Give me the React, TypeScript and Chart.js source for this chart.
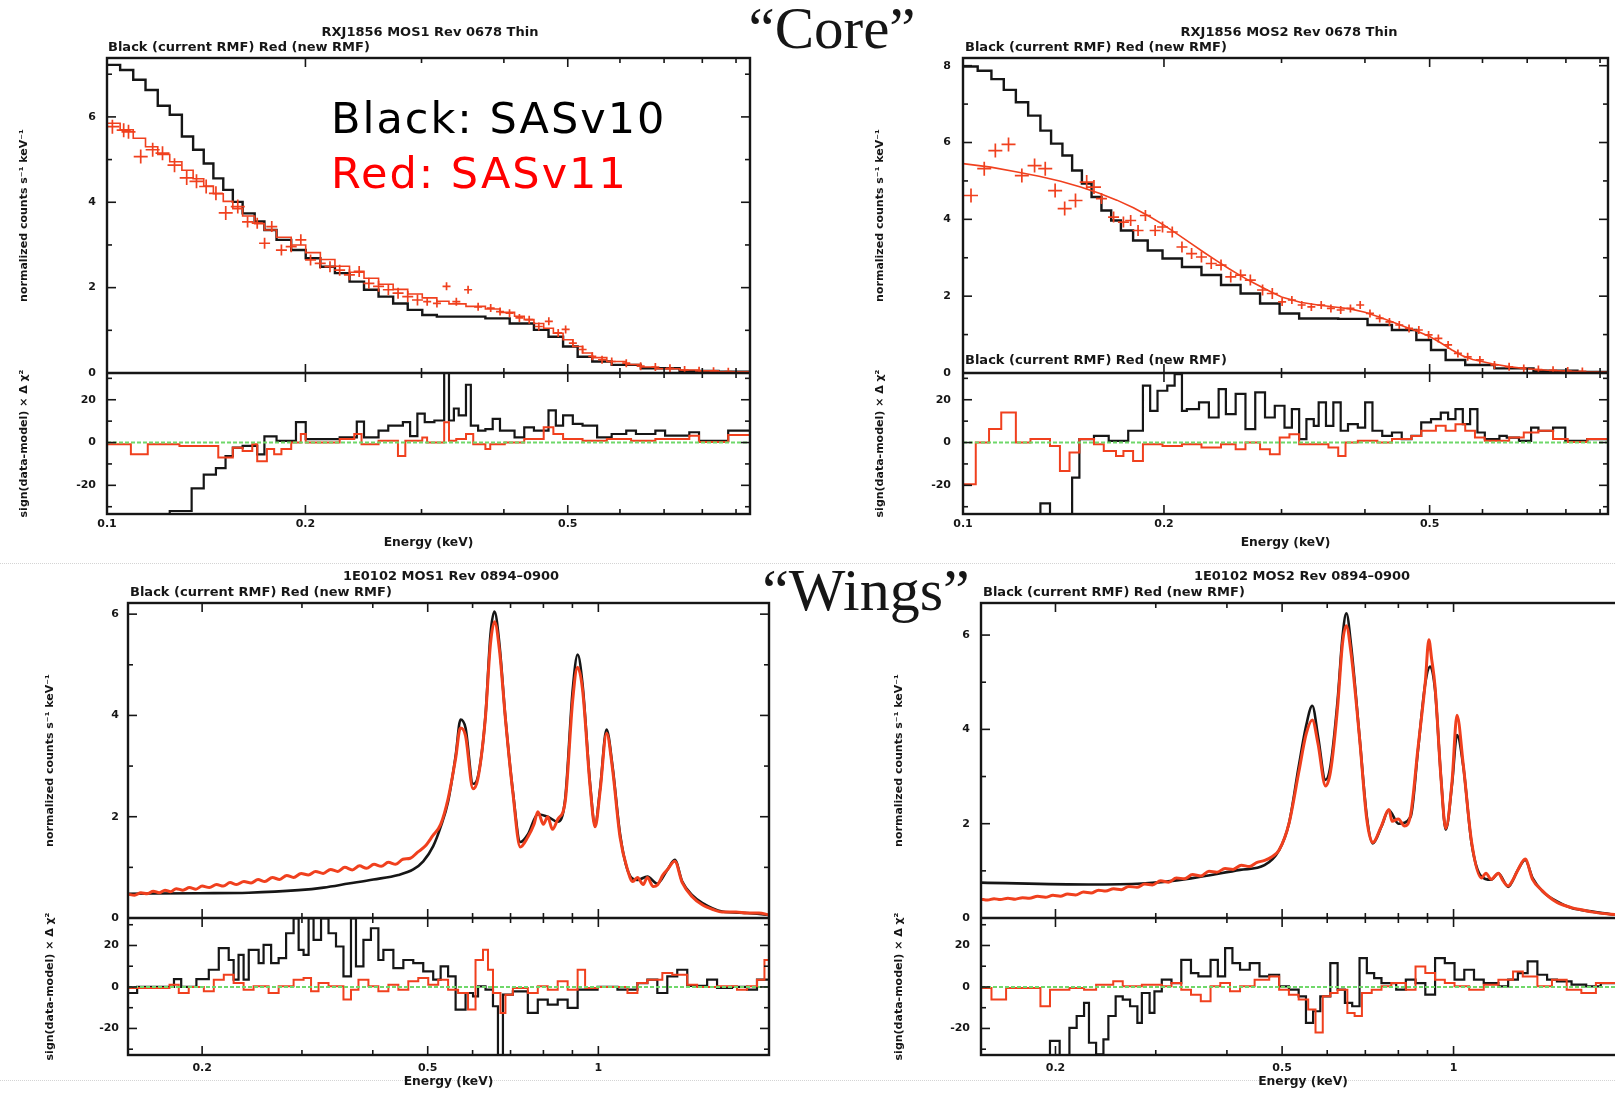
import React, { useEffect, useRef } from 'react';
import { Chart, registerables } from 'chart.js';

Chart.register(...registerables);

type Pt = [number, number];

const INK = '#161616';
const RED = '#f0401e';
const GREEN = '#6fd86a';
const SANS = '"DejaVu Sans", "Liberation Sans", sans-serif';
const SERIF = '"Liberation Serif", "DejaVu Serif", serif';

/* ---------- tick values ---------- */
const coreXLabels = [0.1, 0.2, 0.5];
const coreXMinor = [0.3, 0.4, 0.6, 0.7, 0.8, 0.9];
const wingsXLabels = [0.2, 0.5, 1];
const wingsXMinor = [0.3, 0.4, 0.6, 0.7, 0.8, 0.9, 2];
const coreMos1YLabels = [0, 2, 4, 6];
const coreMos2YLabels = [0, 2, 4, 6, 8];
const coreYMinor = [1, 3, 5, 7];
const wingsYLabels = [0, 2, 4, 6];
const wingsYMinor = [1, 3, 5];
const residLabels = [-20, 0, 20];
const residMinor = [-30, -10, 10, 30];

/* ---------- RXJ1856 MOS1 Rev 0678 Thin ---------- */
const coreMos1Current: Pt[] = [
  [0.1, 7.22], [0.1047, 7.1], [0.1096, 6.87], [0.1144, 6.63], [0.1194, 6.26], [0.1245, 6.05],
  [0.1299, 5.54], [0.1351, 5.23], [0.1402, 4.91], [0.145, 4.56], [0.1501, 4.29], [0.1552, 4.01],
  [0.1606, 3.74], [0.1675, 3.55], [0.1733, 3.35], [0.1808, 3.12], [0.1903, 2.88], [0.2002, 2.69],
  [0.2107, 2.49], [0.2217, 2.34], [0.2333, 2.14], [0.2454, 1.95], [0.2582, 1.79], [0.2717, 1.63],
  [0.2859, 1.48], [0.3008, 1.36], [0.3165, 1.32], [0.375, 1.28], [0.4082, 1.16], [0.4443, 1.01],
  [0.4675, 0.85], [0.4919, 0.62], [0.5176, 0.38], [0.5447, 0.27], [0.5829, 0.19], [0.6454, 0.11],
  [0.739, 0.05], [0.8465, 0.03], [0.945, 0.03],
];
const coreMos1NewModel: Pt[] = [
  [0.1, 5.85], [0.1047, 5.7], [0.1096, 5.5], [0.1144, 5.3], [0.1194, 5.12], [0.1245, 4.95],
  [0.1299, 4.75], [0.1351, 4.55], [0.1402, 4.38], [0.145, 4.2], [0.1501, 4.02], [0.1552, 3.85],
  [0.1606, 3.68], [0.1675, 3.5], [0.1733, 3.35], [0.1808, 3.18], [0.1903, 3.0], [0.2002, 2.82],
  [0.2107, 2.66], [0.2217, 2.5], [0.2333, 2.36], [0.2454, 2.22], [0.2582, 2.08], [0.2717, 1.96],
  [0.2859, 1.85], [0.3008, 1.76], [0.3165, 1.68], [0.3302, 1.62], [0.3504, 1.56], [0.375, 1.5],
  [0.3946, 1.42], [0.4152, 1.33], [0.4295, 1.25], [0.4443, 1.16], [0.4597, 1.05], [0.4755, 0.93],
  [0.4919, 0.78], [0.5089, 0.62], [0.5265, 0.47], [0.5447, 0.36], [0.5731, 0.27], [0.6133, 0.2],
  [0.6454, 0.14], [0.679, 0.1], [0.739, 0.07], [0.7909, 0.05], [0.8465, 0.03], [0.945, 0.03],
];
const coreMos1NewData: Pt[] = [
  [0.1019, 5.77], [0.106, 5.69], [0.1078, 5.65], [0.1125, 5.07], [0.1173, 5.23], [0.1214, 5.15],
  [0.1266, 4.87], [0.1321, 4.57], [0.1367, 4.49], [0.1414, 4.37], [0.1463, 4.21], [0.1514, 3.75],
  [0.1579, 3.9], [0.1634, 3.54], [0.169, 3.51], [0.1734, 3.04], [0.1778, 3.43], [0.1839, 2.88],
  [0.1903, 2.96], [0.1968, 3.12], [0.2036, 2.65], [0.2106, 2.57], [0.2179, 2.49], [0.2254, 2.41],
  [0.2332, 2.3], [0.2413, 2.38], [0.2496, 2.1], [0.2582, 2.03], [0.2672, 1.95], [0.2764, 1.87],
  [0.2859, 1.79], [0.2958, 1.71], [0.306, 1.67], [0.3166, 1.63], [0.3274, 2.03], [0.3388, 1.67],
  [0.353, 1.95], [0.3656, 1.55], [0.382, 1.52], [0.3947, 1.44], [0.408, 1.4], [0.4223, 1.29],
  [0.437, 1.25], [0.4519, 1.09], [0.468, 1.21], [0.4836, 0.94], [0.4963, 1.02], [0.509, 0.7],
  [0.5266, 0.55], [0.5447, 0.39], [0.5636, 0.31], [0.583, 0.27], [0.6134, 0.23], [0.645, 0.16],
  [0.679, 0.14], [0.7145, 0.11], [0.752, 0.07], [0.791, 0.05], [0.832, 0.04], [0.876, 0.03],
];
const coreMos1ResCurrent: Pt[] = [
  [0.1, -45], [0.1245, -32], [0.1344, -21.4], [0.1402, -15], [0.1463, -12], [0.1513, -6.3],
  [0.1552, -2.4], [0.1606, -1.6], [0.169, -5.5], [0.1733, 2.9], [0.1808, 0.8], [0.1935, 9.5],
  [0.2002, 1.6], [0.2254, 2.4], [0.2393, 9.8], [0.2454, 2.4], [0.2582, 5.6], [0.2671, 7.9],
  [0.2811, 9.5], [0.2883, 3], [0.2957, 13.5], [0.3034, 9.5], [0.3138, 10.3], [0.3247, 32.5],
  [0.3302, 10.3], [0.3359, 15.9], [0.3416, 12.7], [0.3504, 27], [0.3564, 7.9], [0.3656, 5.6],
  [0.375, 6.3], [0.3847, 11.1], [0.3946, 5.6], [0.4152, 2.4], [0.4295, 7.1], [0.4443, 5.6],
  [0.4675, 15], [0.4796, 7.9], [0.4919, 12.7], [0.5089, 8.7], [0.5265, 7.9], [0.554, 2.4],
  [0.5829, 4], [0.6133, 5.6], [0.6345, 4], [0.679, 5.6], [0.7025, 3.2], [0.7645, 4.8],
  [0.7909, 0.8], [0.8757, 5.6], [0.945, 5.6],
];
const coreMos1ResNew: Pt[] = [
  [0.1, -0.8], [0.1087, -5.5], [0.1153, -0.8], [0.1288, -1.6], [0.1475, -7], [0.1552, -2.4],
  [0.1606, -4], [0.1661, -0.8], [0.169, -8.7], [0.1748, -3], [0.1793, -5.5], [0.1839, -3],
  [0.1903, 0], [0.1968, 4], [0.2002, 0], [0.2254, 1.6], [0.2372, 4], [0.2433, -0.8],
  [0.2582, 0.8], [0.2763, -6.3], [0.2835, 0.8], [0.3008, 2.4], [0.3059, 0], [0.3247, 9.5],
  [0.3302, 0.8], [0.3387, 1.6], [0.3504, 4], [0.3594, -0.8], [0.375, -3], [0.3814, -0.8],
  [0.4013, 0], [0.4295, 1.6], [0.4597, 7.1], [0.4755, 4], [0.4919, 1.6], [0.5265, 0.8],
  [0.5731, 1.6], [0.6238, 0.8], [0.679, 1.6], [0.7645, 3.2], [0.7909, 0.3], [0.8757, 3.5],
  [0.945, 3.5],
];

/* ---------- RXJ1856 MOS2 Rev 0678 Thin ---------- */
const coreMos2Current: Pt[] = [
  [0.1, 7.98], [0.1052, 7.87], [0.1103, 7.65], [0.1151, 7.37], [0.12, 7.05], [0.1252, 6.7],
  [0.1306, 6.31], [0.1355, 5.97], [0.1409, 5.66], [0.1457, 5.27], [0.1507, 4.93], [0.1558, 4.58],
  [0.1612, 4.23], [0.1667, 3.97], [0.1724, 3.71], [0.1798, 3.45], [0.1891, 3.19], [0.199, 2.98],
  [0.2128, 2.76], [0.2276, 2.55], [0.2435, 2.29], [0.2605, 2.07], [0.2786, 1.81], [0.298, 1.55],
  [0.3188, 1.42], [0.3648, 1.41], [0.4036, 1.25], [0.439, 1.12], [0.4776, 0.86], [0.5024, 0.6],
  [0.5284, 0.34], [0.5653, 0.21], [0.6253, 0.12], [0.7155, 0.06], [0.8326, 0.03], [0.925, 0.03],
];
const coreMos2NewModel: Pt[] = [
  [0.1, 5.45], [0.11, 5.36], [0.12, 5.24], [0.13, 5.12], [0.14, 4.99], [0.15, 4.84], [0.16, 4.68],
  [0.17, 4.5], [0.18, 4.3], [0.19, 4.08], [0.2, 3.85], [0.21, 3.6], [0.22, 3.36], [0.23, 3.13],
  [0.24, 2.92], [0.25, 2.72], [0.26, 2.54], [0.27, 2.38], [0.28, 2.24], [0.29, 2.1], [0.3, 1.98],
  [0.32, 1.84], [0.34, 1.77], [0.36, 1.72], [0.38, 1.67], [0.4, 1.58], [0.42, 1.46], [0.44, 1.33],
  [0.46, 1.2], [0.48, 1.08], [0.5, 0.95], [0.52, 0.78], [0.54, 0.6], [0.56, 0.45], [0.58, 0.35],
  [0.62, 0.24], [0.66, 0.16], [0.7, 0.11], [0.75, 0.07], [0.8, 0.05], [0.85, 0.03], [0.925, 0.02],
];
const coreMos2NewData: Pt[] = [
  [0.1028, 4.62], [0.1076, 5.32], [0.1118, 5.79], [0.117, 5.95], [0.1225, 5.14], [0.128, 5.4],
  [0.1328, 5.32], [0.1374, 4.75], [0.142, 4.28], [0.1474, 4.49], [0.1532, 4.97], [0.1571, 4.84],
  [0.1612, 4.54], [0.1681, 4.06], [0.1739, 3.93], [0.1783, 3.97], [0.1829, 3.71], [0.1876, 4.1],
  [0.194, 3.71], [0.199, 3.8], [0.2058, 3.67], [0.2128, 3.28], [0.22, 3.11], [0.2276, 3.02],
  [0.2354, 2.85], [0.2435, 2.81], [0.2518, 2.5], [0.2605, 2.55], [0.2694, 2.42], [0.281, 2.16],
  [0.2906, 2.07], [0.3006, 1.85], [0.3109, 1.9], [0.3216, 1.77], [0.3325, 1.72], [0.344, 1.77],
  [0.3557, 1.68], [0.3679, 1.64], [0.3805, 1.68], [0.3935, 1.77], [0.407, 1.55], [0.4209, 1.42],
  [0.4353, 1.33], [0.4503, 1.25], [0.4657, 1.16], [0.4817, 1.12], [0.4982, 0.99], [0.5153, 0.9],
  [0.5329, 0.73], [0.5512, 0.51], [0.5701, 0.42], [0.5946, 0.34], [0.6253, 0.21], [0.6577, 0.16],
  [0.6918, 0.12], [0.7276, 0.09], [0.7653, 0.07], [0.805, 0.05], [0.8467, 0.04],
];
const coreMos2ResCurrent: Pt[] = [
  [0.1, -45], [0.1306, -28.4], [0.135, -45], [0.1457, -16.4], [0.1494, 1.6], [0.1571, 3.1],
  [0.1653, 0.8], [0.1768, 5.5], [0.186, 26.6], [0.1907, 14.8], [0.1956, 24.2], [0.2023, 26.6],
  [0.2075, 32], [0.2128, 14.8], [0.2164, 15.6], [0.2257, 18.8], [0.2335, 11.7], [0.2415, 25],
  [0.2476, 13.3], [0.2561, 22.7], [0.2649, 6.3], [0.274, 23.4], [0.2834, 11.7], [0.2931, 17.2],
  [0.3031, 7], [0.3109, 15.6], [0.3188, 1.6], [0.3269, 10.9], [0.3353, 7.8], [0.341, 18.8],
  [0.3497, 7.8], [0.3587, 18.8], [0.3679, 5.5], [0.3773, 8.6], [0.3903, 7], [0.4003, 18.8],
  [0.4105, 5.5], [0.4246, 3.1], [0.4391, 4.7], [0.4541, 1.6], [0.4696, 3.1], [0.4857, 9.4],
  [0.5024, 10.9], [0.5196, 14], [0.5329, 10.9], [0.5466, 15.6], [0.5606, 8.6], [0.5749, 15.6],
  [0.5896, 4.7], [0.6048, 1.6], [0.6361, 3.1], [0.6523, 2.3], [0.6804, 0.8], [0.7095, 7],
  [0.7277, 5.5], [0.7653, 7], [0.7983, 0.8], [0.8611, 1.6], [0.925, 1.6],
];
const coreMos2ResNew: Pt[] = [
  [0.1, -19.5], [0.1045, 0], [0.1094, 6.3], [0.1141, 14], [0.12, 0], [0.1262, 1.6],
  [0.135, -1.6], [0.1397, -13.3], [0.1444, -4.7], [0.1494, 1.6], [0.1571, -0.8], [0.1625, -3.9],
  [0.1695, -6.3], [0.1739, -3.9], [0.1798, -8.6], [0.186, -0.8], [0.199, -1.6], [0.2128, -0.8],
  [0.2276, -2.3], [0.2435, -0.8], [0.2561, -3.1], [0.2649, 0], [0.2786, -3.1], [0.2882, -5.5],
  [0.2981, 2.3], [0.3083, 3.9], [0.3188, -0.8], [0.3527, -2.3], [0.3648, -6.3], [0.3741, 0],
  [0.3903, 0.8], [0.4175, 0], [0.4391, 1.6], [0.4696, 3.1], [0.4857, 5.5], [0.5109, 7.8],
  [0.5284, 5.5], [0.5466, 8.6], [0.5653, 5.5], [0.5846, 2.3], [0.6048, 0.8], [0.6578, 2.3],
  [0.6918, 4.7], [0.7277, 5.5], [0.7653, 1.6], [0.8051, 0.3], [0.8611, 1.6], [0.925, 1.6],
];

/* ---------- 1E0102 MOS1 Rev 0894-0900 ---------- */
const wingsMos1Current: Pt[] = [
  [0.148, 0.48], [0.1974, 0.49], [0.2417, 0.5], [0.296, 0.55], [0.3275, 0.6], [0.3624, 0.68],
  [0.401, 0.76], [0.4438, 0.85], [0.4715, 0.96], [0.491, 1.12], [0.5113, 1.42], [0.527, 1.8],
  [0.5432, 2.3], [0.56, 3.2], [0.5714, 3.92], [0.5831, 3.75], [0.6011, 2.65], [0.6134, 2.8],
  [0.6323, 4.0], [0.6452, 5.6], [0.6558, 6.05], [0.6692, 5.4], [0.6856, 3.95], [0.7067, 2.5],
  [0.7285, 1.5], [0.7509, 1.65], [0.7819, 2.05], [0.8142, 2.0], [0.8478, 1.9], [0.8739, 2.35],
  [0.9009, 4.5], [0.9193, 5.2], [0.9381, 4.6], [0.967, 2.65], [0.9868, 1.85], [1.007, 2.55],
  [1.0338, 3.72], [1.0592, 3.0], [1.0918, 1.67], [1.1255, 0.95], [1.172, 0.75], [1.2204, 0.82],
  [1.2707, 0.68], [1.3232, 0.95], [1.364, 1.15], [1.406, 0.72], [1.4641, 0.45], [1.5245, 0.3],
  [1.653, 0.13], [1.8293, 0.1], [2.0, 0.06],
];
const wingsMos1New: Pt[] = [
  [0.148, 0.47], [0.152, 0.45], [0.156, 0.5], [0.16, 0.48], [0.164, 0.53], [0.168, 0.5],
  [0.172, 0.55], [0.176, 0.52], [0.18, 0.58], [0.185, 0.55], [0.19, 0.6], [0.195, 0.57],
  [0.2, 0.63], [0.206, 0.6], [0.212, 0.66], [0.218, 0.63], [0.224, 0.7], [0.23, 0.66],
  [0.237, 0.72], [0.244, 0.69], [0.251, 0.76], [0.258, 0.72], [0.266, 0.8], [0.274, 0.76],
  [0.282, 0.84], [0.29, 0.8], [0.299, 0.88], [0.308, 0.85], [0.317, 0.92], [0.327, 0.88],
  [0.337, 0.96], [0.347, 0.92], [0.357, 1.0], [0.368, 0.95], [0.379, 1.03], [0.39, 0.98],
  [0.402, 1.06], [0.414, 1.02], [0.426, 1.1], [0.439, 1.06], [0.452, 1.16], [0.466, 1.18],
  [0.48, 1.3], [0.495, 1.42], [0.51, 1.62], [0.527, 1.85], [0.543, 2.35], [0.56, 3.15],
  [0.571, 3.75], [0.583, 3.6], [0.601, 2.55], [0.613, 2.75], [0.632, 3.95], [0.645, 5.4],
  [0.656, 5.85], [0.669, 5.3], [0.686, 3.9], [0.707, 2.45], [0.728, 1.4], [0.751, 1.6],
  [0.77, 1.85], [0.782, 2.1], [0.8, 1.85], [0.814, 2.0], [0.83, 1.75], [0.848, 1.95],
  [0.874, 2.3], [0.901, 4.3], [0.919, 4.95], [0.938, 4.5], [0.967, 2.6], [0.987, 1.8],
  [1.007, 2.5], [1.034, 3.65], [1.059, 2.95], [1.092, 1.6], [1.126, 0.95], [1.15, 0.72],
  [1.172, 0.8], [1.2, 0.66], [1.22, 0.8], [1.25, 0.62], [1.271, 0.65], [1.3, 0.85],
  [1.323, 0.95], [1.364, 1.12], [1.406, 0.7], [1.464, 0.42], [1.525, 0.26], [1.6, 0.16],
  [1.653, 0.12], [1.75, 0.12], [1.829, 0.1], [1.92, 0.1], [2.0, 0.06],
];
const wingsMos1ResCurrent: Pt[] = [
  [0.148, -2.9], [0.1536, 0], [0.1784, 3.8], [0.1837, 0], [0.1954, 3.8], [0.2055, 8.3],
  [0.214, 18.7], [0.2228, 13], [0.2273, 3.5], [0.2319, 15.5], [0.2367, 3.5], [0.2417, 17.9],
  [0.2516, 11.5], [0.2567, 20.3], [0.2647, 11.5], [0.2729, 13.9], [0.2813, 25.9], [0.29, 33],
  [0.296, 17.9], [0.302, 15.5], [0.3082, 33], [0.3145, 22.7], [0.3242, 33], [0.3342, 25.9],
  [0.3445, 19.5], [0.3551, 5.1], [0.3661, 33], [0.3736, 9.9], [0.3851, 22.7], [0.397, 28.3],
  [0.4092, 13], [0.4176, 17.9], [0.4349, 9.1], [0.4529, 13], [0.4715, 11.5], [0.491, 7.5],
  [0.5113, 3.5], [0.527, 9.9], [0.5432, 5.1], [0.56, -10.9], [0.5831, -2.9], [0.6011, -4.5],
  [0.6134, 0.3], [0.6323, -1.3], [0.6518, -9.3], [0.6651, -45], [0.6787, -3.7], [0.7067, -2.1],
  [0.7509, -12.5], [0.7819, -6.1], [0.8142, -8.5], [0.8478, -6.1], [0.8827, -10.1], [0.9193, -1.3],
  [0.9968, 0], [1.0807, -1.3], [1.172, 1.9], [1.2204, 3.5], [1.2707, -2.9], [1.3232, 5.1],
  [1.3778, 8.3], [1.4349, 0.5], [1.5556, 3.5], [1.6196, -0.5], [1.7208, 0], [1.8293, -1.3],
  [1.9048, 3.5], [2.0, 3.5],
];
const wingsMos1ResNew: Pt[] = [
  [0.148, -0.5], [0.1752, 1.1], [0.1819, -2.9], [0.1894, 0], [0.2014, -2.1], [0.2097, 3.5],
  [0.2184, 5.9], [0.2273, 1.9], [0.2367, -1.3], [0.2465, 0.3], [0.262, -2.9], [0.2729, 0.3],
  [0.29, 3.5], [0.302, 4.3], [0.3113, -2.1], [0.3209, 1.9], [0.3342, 0.3], [0.3551, -6.1],
  [0.3661, -1.3], [0.3774, 3.5], [0.393, 0.3], [0.4092, -2.1], [0.4262, 1.1], [0.4438, -1.3],
  [0.4621, 2.7], [0.4812, 4.3], [0.5011, 1.1], [0.5218, 3.5], [0.5432, -1.3], [0.5657, -2.9],
  [0.589, -10.9], [0.6072, 13], [0.6259, 17.9], [0.6387, 8.3], [0.6518, -2.9], [0.6719, -12.5],
  [0.6856, -3.7], [0.7067, -0.5], [0.7509, -2.9], [0.7819, 0.3], [0.8142, -1.3], [0.8478, 2.7],
  [0.8827, -1.3], [0.9193, 8.3], [0.9476, -0.5], [0.9968, 0], [1.1255, -2.9], [1.172, 1.9],
  [1.2204, 3.5], [1.2968, 6.7], [1.3502, 5.9], [1.4349, 1.1], [1.494, 0], [1.6196, 0.3],
  [1.756, -1.3], [1.8293, 0.3], [1.9048, 3.5], [1.9633, 13], [2.0, 13],
];

/* ---------- 1E0102 MOS2 Rev 0894-0900 ---------- */
const wingsMos2Current: Pt[] = [
  [0.148, 0.75], [0.2285, 0.71], [0.2836, 0.73], [0.3459, 0.84], [0.4218, 1.02], [0.4656, 1.12],
  [0.494, 1.44], [0.5139, 2.0], [0.5346, 3.21], [0.5506, 4.06], [0.5649, 4.5], [0.5784, 3.84],
  [0.5957, 2.93], [0.6076, 3.21], [0.6258, 4.62], [0.6382, 5.96], [0.6484, 6.46], [0.6613, 5.75],
  [0.6838, 3.84], [0.7043, 2.15], [0.7211, 1.58], [0.7472, 1.94], [0.7696, 2.29], [0.8005, 2.0],
  [0.8409, 2.15], [0.8661, 3.56], [0.8921, 4.98], [0.9099, 5.33], [0.928, 4.83], [0.9502, 3.0],
  [0.9691, 1.87], [0.9943, 2.86], [1.014, 3.88], [1.0403, 3.21], [1.0757, 1.58], [1.1189, 0.88],
  [1.1639, 0.81], [1.1988, 0.95], [1.247, 0.66], [1.2971, 1.02], [1.336, 1.23], [1.376, 0.85],
  [1.4313, 0.57], [1.519, 0.35], [1.6113, 0.21], [1.7445, 0.14], [1.8888, 0.08], [2.0, 0.05],
];
const wingsMos2New: Pt[] = [
  [0.148, 0.4], [0.152, 0.38], [0.156, 0.41], [0.16, 0.39], [0.165, 0.42], [0.17, 0.4],
  [0.175, 0.43], [0.18, 0.42], [0.186, 0.46], [0.192, 0.44], [0.198, 0.48], [0.204, 0.46],
  [0.21, 0.51], [0.217, 0.49], [0.224, 0.55], [0.231, 0.53], [0.238, 0.59], [0.245, 0.57],
  [0.253, 0.62], [0.261, 0.6], [0.269, 0.67], [0.278, 0.65], [0.287, 0.72], [0.296, 0.7],
  [0.306, 0.79], [0.316, 0.76], [0.326, 0.85], [0.337, 0.83], [0.348, 0.92], [0.36, 0.89],
  [0.372, 0.99], [0.384, 0.97], [0.397, 1.05], [0.41, 1.03], [0.424, 1.12], [0.438, 1.09],
  [0.452, 1.18], [0.466, 1.22], [0.48, 1.3], [0.494, 1.44], [0.514, 2.0], [0.535, 3.1],
  [0.551, 3.9], [0.565, 4.2], [0.578, 3.7], [0.596, 2.8], [0.608, 3.1], [0.626, 4.5],
  [0.638, 5.8], [0.648, 6.2], [0.661, 5.6], [0.684, 3.8], [0.704, 2.1], [0.721, 1.6],
  [0.747, 1.95], [0.77, 2.3], [0.78, 2.05], [0.8, 2.1], [0.82, 1.95], [0.841, 2.2],
  [0.866, 3.6], [0.892, 5.0], [0.905, 5.9], [0.915, 5.5], [0.928, 4.9], [0.95, 3.0],
  [0.969, 1.9], [0.994, 2.9], [1.014, 4.3], [1.04, 3.25], [1.076, 1.6], [1.119, 0.85],
  [1.14, 0.95], [1.164, 0.82], [1.199, 0.95], [1.22, 0.8], [1.247, 0.68], [1.27, 0.8],
  [1.297, 1.02], [1.336, 1.25], [1.376, 0.82], [1.431, 0.58], [1.47, 0.45], [1.519, 0.33],
  [1.611, 0.22], [1.7, 0.16], [1.745, 0.13], [1.889, 0.08], [2.0, 0.06],
];
const wingsMos2ResCurrent: Pt[] = [
  [0.148, -45], [0.1956, -26], [0.2034, -45], [0.2116, -19.7], [0.2179, -14], [0.2245, -7.7],
  [0.229, -26.9], [0.2357, -32.5], [0.2428, -25.3], [0.2477, -14], [0.2551, -4.5], [0.2625, -6.1],
  [0.2704, -9.3], [0.2785, -17.3], [0.2836, -2.9], [0.2926, -12.5], [0.2984, -2.1], [0.3074, 3.5],
  [0.3197, 1.9], [0.3326, 13.1], [0.3459, 6.7], [0.3564, 5.1], [0.3744, 13.1], [0.3856, 5.1],
  [0.3971, 18.7], [0.409, 11.5], [0.4218, 8.3], [0.4387, 11.5], [0.4563, 5.1], [0.4746, 5.9],
  [0.494, 0.3], [0.5139, -1.3], [0.5346, -4.5], [0.5506, -17.3], [0.5667, -11.7], [0.5835, -4.5],
  [0.6076, 11.5], [0.6258, -1.3], [0.6445, -7.7], [0.6638, -9.3], [0.6838, 13.9], [0.7043, 6.7],
  [0.7254, 4.3], [0.7472, 1.9], [0.793, -1.3], [0.8245, 3.5], [0.8575, 1.9], [0.8921, -3.7],
  [0.928, 13.9], [0.9653, 11.5], [1.004, 3.5], [1.0443, 8.3], [1.0862, 3.5], [1.1298, 1.9],
  [1.1988, 0.3], [1.247, 3.5], [1.2971, 6.7], [1.3492, 12.3], [1.4034, 5.9], [1.4596, 3.5],
  [1.519, 2.7], [1.6113, 1.1], [1.7096, 0.3], [1.8134, 1.9], [2.0, 1.9],
];
const wingsMos2ResNew: Pt[] = [
  [0.148, -0.5], [0.1544, -6.1], [0.1638, -0.5], [0.1882, -9.3], [0.1956, -1.3], [0.2116, -0.5],
  [0.2245, -1.3], [0.2357, 1.1], [0.2526, 2.7], [0.2625, 0.3], [0.2836, 1.1], [0.3074, 0.3],
  [0.3197, 1.9], [0.3326, -1.3], [0.3459, -3.7], [0.3599, -6.9], [0.3744, 0.3], [0.3894, 1.9],
  [0.405, -2.1], [0.4218, 0.3], [0.4474, 3.5], [0.4746, 5.1], [0.494, -1.3], [0.5139, -3.7],
  [0.5346, -6.1], [0.5556, -10.9], [0.5723, -22], [0.5893, -4.5], [0.6076, -2.9], [0.6258, -1.3],
  [0.6509, -12.5], [0.6703, -14], [0.6904, -2.9], [0.7183, -1.3], [0.7472, 0.3], [0.7775, 1.9],
  [0.8245, -1.3], [0.8575, 9.9], [0.8921, 6.7], [0.928, 3.5], [0.9653, 1.9], [1.004, 0.3],
  [1.0651, -1.3], [1.1298, 1.1], [1.1988, 3.5], [1.2719, 7.5], [1.3229, 5.1], [1.4034, 0.3],
  [1.4886, 3.5], [1.58, -1.3], [1.6763, -2.9], [1.778, 1.9], [2.0, 1.9],
];

/* ---------- chart helpers ---------- */
const MAIN = 'y';
const RESID = 'yres';

const xy = (pts: Pt[]) => pts.map(([x, y]) => ({ x, y }));

const hist = (pts: Pt[], color: string, width: number, axis: string, order: number) => ({
  data: xy(pts), yAxisID: axis, borderColor: color, borderWidth: width, stepped: 'before',
  pointRadius: 0, fill: false, order,
});
const curve = (pts: Pt[], color: string, width: number, axis: string, order: number, smooth = false) => ({
  data: xy(pts), yAxisID: axis, borderColor: color, borderWidth: width, pointRadius: 0,
  fill: false, order, cubicInterpolationMode: smooth ? 'monotone' : 'default',
});
const crosses = (pts: Pt[], color: string, order: number) => ({
  data: xy(pts), yAxisID: MAIN, showLine: false, pointStyle: 'cross', order,
  pointRadius: (c: any) => (c.raw && c.raw.x < 0.16 ? 7 : c.raw && c.raw.x < 0.3 ? 5.5 : 4),
  pointBorderColor: color, pointBackgroundColor: color, pointBorderWidth: 1.7,
});
const zeroLine = (x0: number, x1: number) => ({
  data: [{ x: x0, y: 0 }, { x: x1, y: 0 }], yAxisID: RESID, borderColor: GREEN, borderWidth: 2,
  borderDash: [4, 2], pointRadius: 0, fill: false, order: 0,
});

/* frame, divider and inward tick marks in the PGPLOT style */
const framePlugin = {
  id: 'frame',
  afterDatasetsDraw(chart: any, _args: unknown, o: any) {
    const { ctx, chartArea: a } = chart;
    const sx = chart.scales.x;
    const sy = chart.scales[MAIN];
    const sr = chart.scales[RESID];
    const mid = sy.bottom;
    const seg = (x1: number, y1: number, x2: number, y2: number) => {
      ctx.beginPath();
      ctx.moveTo(x1, y1);
      ctx.lineTo(x2, y2);
      ctx.stroke();
    };
    ctx.save();
    ctx.strokeStyle = INK;
    ctx.lineWidth = 1.6;
    const xt = (v: number, len: number) => {
      const p = sx.getPixelForValue(v);
      seg(p, a.top, p, a.top + len);
      seg(p, mid - len, p, mid + len);
      seg(p, a.bottom, p, a.bottom - len);
    };
    o.xMajor.forEach((v: number) => xt(v, 9));
    o.xMinor.forEach((v: number) => xt(v, 5));
    const yt = (s: any, v: number, len: number) => {
      const p = s.getPixelForValue(v);
      seg(a.left, p, a.left + len, p);
      seg(a.right, p, a.right - len, p);
    };
    o.yMajor.forEach((v: number) => yt(sy, v, 9));
    o.yMinor.forEach((v: number) => yt(sy, v, 5));
    residLabels.forEach((v) => yt(sr, v, 9));
    residMinor.forEach((v) => yt(sr, v, 5));
    ctx.lineWidth = 2.4;
    ctx.strokeRect(a.left, a.top, a.right - a.left, a.bottom - a.top);
    seg(a.left, mid, a.right, mid);
    ctx.restore();
  },
};

interface PanelSpec {
  id: string;
  width: number;
  height: number;
  left: number;
  right: number;
  top: number;
  mid: number;
  bottom: number;
  yTitleX: number;
  xAxisBottom: number;
  yTickPad: number;
  xTickPad: number;
  xMin: number;
  xMax: number;
  xLabels: number[];
  xMinor: number[];
  yMax: number;
  yLabels: number[];
  yMinor: number[];
  rMin: number;
  rMax: number;
  datasets: any[];
}

const AXIS_TITLE_SIZE = 11;
const tickFont = { family: SANS, size: 11, weight: 'bold' as const };
const axisTitleFont = { family: SANS, size: AXIS_TITLE_SIZE, weight: 'bold' as const };
const energyFont = { family: SANS, size: 12.3, weight: 'bold' as const };

const panels: PanelSpec[] = [
  {
    id: 'core-mos1', width: 1615, height: 1093,
    left: 107, right: 750, top: 58, mid: 373, bottom: 514,
    yTitleX: 24, xAxisBottom: 550, yTickPad: 11, xTickPad: 4,
    xMin: 0.1, xMax: 0.945, xLabels: coreXLabels, xMinor: coreXMinor,
    yMax: 7.38, yLabels: coreMos1YLabels, yMinor: coreYMinor, rMin: -33.4, rMax: 32.5,
    datasets: [
      zeroLine(0.1, 0.945),
      crosses(coreMos1NewData, RED, 1),
      hist(coreMos1NewModel, RED, 1.6, MAIN, 2),
      hist(coreMos1Current, INK, 2.4, MAIN, 3),
      hist(coreMos1ResNew, RED, 2, RESID, 1),
      hist(coreMos1ResCurrent, INK, 2.2, RESID, 2),
    ],
  },
  {
    id: 'core-mos2', width: 1615, height: 1093,
    left: 963, right: 1608, top: 58, mid: 373, bottom: 514,
    yTitleX: 880, xAxisBottom: 550, yTickPad: 12, xTickPad: 4,
    xMin: 0.1, xMax: 0.925, xLabels: coreXLabels, xMinor: coreXMinor,
    yMax: 8.2, yLabels: coreMos2YLabels, yMinor: coreYMinor, rMin: -33.4, rMax: 32.5,
    datasets: [
      zeroLine(0.1, 0.925),
      crosses(coreMos2NewData, RED, 1),
      curve(coreMos2NewModel, RED, 1.6, MAIN, 2),
      hist(coreMos2Current, INK, 2.4, MAIN, 3),
      hist(coreMos2ResNew, RED, 2, RESID, 1),
      hist(coreMos2ResCurrent, INK, 2.2, RESID, 2),
    ],
  },
  {
    id: 'wings-mos1', width: 1615, height: 1093,
    left: 128, right: 769, top: 603, mid: 918, bottom: 1055,
    yTitleX: 50, xAxisBottom: 1089.5, yTickPad: 9, xTickPad: 7,
    xMin: 0.148, xMax: 2.0, xLabels: wingsXLabels, xMinor: wingsXMinor,
    yMax: 6.22, yLabels: wingsYLabels, yMinor: wingsYMinor, rMin: -32.8, rMax: 33.25,
    datasets: [
      zeroLine(0.148, 2.0),
      curve(wingsMos1New, RED, 3, MAIN, 1, true),
      curve(wingsMos1Current, INK, 2.6, MAIN, 2, true),
      hist(wingsMos1ResNew, RED, 2, RESID, 1),
      hist(wingsMos1ResCurrent, INK, 2.2, RESID, 2),
    ],
  },
  {
    id: 'wings-mos2', width: 1700, height: 1093,
    left: 981, right: 1625, top: 603, mid: 918, bottom: 1055,
    yTitleX: 899, xAxisBottom: 1089.5, yTickPad: 11, xTickPad: 7,
    xMin: 0.148, xMax: 2.0, xLabels: wingsXLabels, xMinor: wingsXMinor,
    yMax: 6.68, yLabels: wingsYLabels, yMinor: wingsYMinor, rMin: -32.8, rMax: 33.25,
    datasets: [
      zeroLine(0.148, 2.0),
      curve(wingsMos2New, RED, 3, MAIN, 1, true),
      curve(wingsMos2Current, INK, 2.6, MAIN, 2, true),
      hist(wingsMos2ResNew, RED, 2, RESID, 1),
      hist(wingsMos2ResCurrent, INK, 2.2, RESID, 2),
    ],
  },
];

function Panel({ spec }: { spec: PanelSpec }) {
  const ref = useRef<HTMLCanvasElement | null>(null);

  useEffect(() => {
    const canvas = ref.current;
    if (!canvas) return;
    const padLeft = spec.yTitleX - AXIS_TITLE_SIZE * 0.6;
    const axisWidth = spec.left - padLeft;
    const label = (v: any) => String(v);

    const chart = new Chart(canvas, {
      type: 'line',
      data: { datasets: spec.datasets },
      options: {
        responsive: false,
        animation: false,
        devicePixelRatio: 1,
        events: [],
        layout: {
          autoPadding: false,
          padding: {
            left: padLeft,
            right: spec.width - spec.right,
            top: spec.top,
            bottom: spec.height - spec.xAxisBottom,
          },
        },
        plugins: {
          legend: { display: false },
          tooltip: { enabled: false },
          frame: {
            xMajor: spec.xLabels,
            xMinor: spec.xMinor,
            yMajor: spec.yLabels,
            yMinor: spec.yMinor,
          },
        } as any,
        scales: {
          x: {
            type: 'logarithmic',
            position: 'bottom',
            min: spec.xMin,
            max: spec.xMax,
            grid: { display: false, drawTicks: false },
            border: { display: false },
            afterBuildTicks: (s: any) => {
              s.ticks = spec.xLabels.map((value) => ({ value }));
            },
            afterFit: (s: any) => {
              s.height = spec.xAxisBottom - spec.bottom;
            },
            ticks: { autoSkip: false, maxRotation: 0, padding: spec.xTickPad, color: INK, font: tickFont, callback: label },
            title: { display: true, text: 'Energy (keV)', color: INK, font: energyFont, padding: 0 },
          },
          [RESID]: {
            type: 'linear',
            axis: 'y',
            position: 'left',
            stack: 'panel',
            stackWeight: spec.bottom - spec.mid,
            min: spec.rMin,
            max: spec.rMax,
            grid: { display: false, drawTicks: false },
            border: { display: false },
            afterBuildTicks: (s: any) => {
              s.ticks = residLabels.map((value) => ({ value }));
            },
            afterFit: (s: any) => {
              s.width = axisWidth;
            },
            ticks: { autoSkip: false, padding: spec.yTickPad, color: INK, font: tickFont, callback: label },
            title: { display: true, text: 'sign(data-model) × Δ χ²', color: INK, font: axisTitleFont, padding: 0 },
          },
          [MAIN]: {
            type: 'linear',
            axis: 'y',
            position: 'left',
            stack: 'panel',
            stackWeight: spec.mid - spec.top,
            min: 0,
            max: spec.yMax,
            grid: { display: false, drawTicks: false },
            border: { display: false },
            afterBuildTicks: (s: any) => {
              s.ticks = spec.yLabels.map((value) => ({ value }));
            },
            afterFit: (s: any) => {
              s.width = axisWidth;
            },
            ticks: { autoSkip: false, padding: spec.yTickPad, color: INK, font: tickFont, callback: label },
            title: { display: true, text: 'normalized counts s⁻¹ keV⁻¹', color: INK, font: axisTitleFont, padding: 0 },
          },
        } as any,
      },
      plugins: [framePlugin as any],
    } as any);

    return () => chart.destroy();
  }, [spec]);

  return (
    <canvas
      ref={ref}
      width={spec.width}
      height={spec.height}
      style={{ position: 'absolute', left: 0, top: 0, width: spec.width, height: spec.height }}
    />
  );
}

interface CaptionSpec {
  text: string;
  x: number;
  baseline: number;
  size: number;
  family: string;
  weight?: string;
  color?: string;
  center?: boolean;
  spacing?: number;
  ascent: number;
}

const titleFont = { size: 13, family: SANS, weight: 'bold', ascent: 0.846 };
const subtitle = 'Black (current RMF) Red (new RMF)';

const captions: CaptionSpec[] = [
  { text: '\u201CCore\u201D', x: 832, baseline: 48.5, size: 59, family: SERIF, center: true, ascent: 0.8375 },
  { text: '\u201CWings\u201D', x: 866, baseline: 610, size: 60, family: SERIF, center: true, ascent: 0.8375 },
  { text: 'RXJ1856 MOS1 Rev 0678 Thin', x: 430, baseline: 36, center: true, ...titleFont },
  { text: subtitle, x: 108, baseline: 51, ...titleFont },
  { text: 'RXJ1856 MOS2 Rev 0678 Thin', x: 1289, baseline: 36, center: true, ...titleFont },
  { text: subtitle, x: 965, baseline: 51, ...titleFont },
  { text: subtitle, x: 965, baseline: 364, ...titleFont },
  { text: '1E0102 MOS1 Rev 0894\u20130900', x: 451, baseline: 580, center: true, ...titleFont },
  { text: subtitle, x: 130, baseline: 596, ...titleFont },
  { text: '1E0102 MOS2 Rev 0894\u20130900', x: 1302, baseline: 580, center: true, ...titleFont },
  { text: subtitle, x: 983, baseline: 596, ...titleFont },
  { text: 'Black: SASv10', x: 331, baseline: 133.3, size: 43, family: SANS, spacing: 2, color: '#000000', ascent: 0.846 },
  { text: 'Red: SASv11', x: 331, baseline: 188.3, size: 43, family: SANS, spacing: 2, color: '#ff0000', ascent: 0.846 },
];

function Caption({ c }: { c: CaptionSpec }) {
  const style: React.CSSProperties = {
    position: 'absolute',
    left: c.x,
    top: c.baseline - c.size * c.ascent,
    fontFamily: c.family,
    fontSize: c.size,
    lineHeight: `${c.size}px`,
    fontWeight: (c.weight as any) || 'normal',
    color: c.color || INK,
    letterSpacing: c.spacing || 0,
    whiteSpace: 'nowrap',
    transform: c.center ? 'translateX(-50%)' : undefined,
  };
  return <div style={style}>{c.text}</div>;
}

export default function App() {
  return (
    <div
      style={{
        position: 'absolute',
        left: 0,
        top: 0,
        width: 1615,
        height: 1093,
        overflow: 'hidden',
        background: '#ffffff',
      }}
    >
      <div style={{ position: 'absolute', left: 0, top: 563, width: 1615, borderTop: '1px dotted #d4d4d4' }} />
      <div style={{ position: 'absolute', left: 0, top: 1080, width: 1615, borderTop: '1px dotted #d4d4d4' }} />
      {panels.map((p) => (
        <Panel key={p.id} spec={p} />
      ))}
      {captions.map((c, i) => (
        <Caption key={i} c={c} />
      ))}
    </div>
  );
}
